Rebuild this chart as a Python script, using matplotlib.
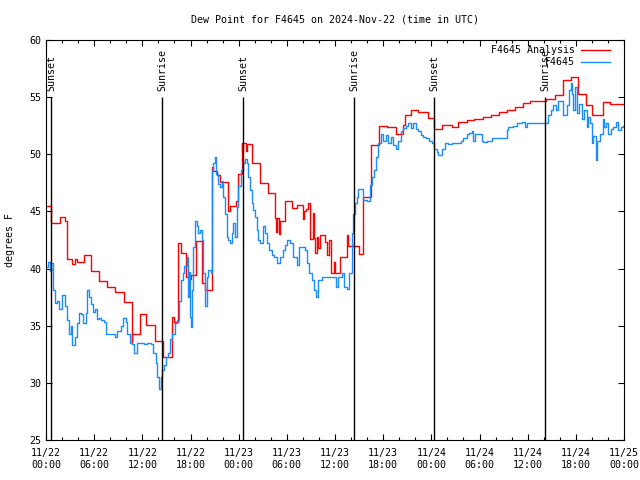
import matplotlib
matplotlib.use("Agg")
import matplotlib.pyplot as plt
import matplotlib.dates as mdates
import numpy as np
from datetime import datetime, timedelta

plt.rcParams['font.family'] = ['DejaVu Sans Mono']
FS = 7.2

start = datetime(2024, 11, 22, 0, 0)

# analysis (red), step series: hours since start, value
red_h = [0.0, 0.62, 1.7, 2.33, 2.65, 3.24, 3.6, 3.9, 4.73, 5.64, 6.6, 7.63, 8.59,
         9.71, 10.67, 10.75, 11.67, 12.49, 13.57, 14.53, 15.65, 15.94, 16.48, 16.8,
         17.43, 17.85, 18.06, 18.68, 19.39, 19.8, 20.64, 20.75, 21.26, 21.67, 22.63,
         22.91, 23.66, 23.95, 24.37, 24.45, 24.55, 24.9, 25.0, 25.69, 26.65, 27.61,
         28.52, 28.7, 28.8, 29.0, 29.1, 29.76, 30.6, 31.22, 32.0, 32.1, 32.4, 32.6,
         32.88, 33.3, 33.4, 33.5, 33.7, 33.9, 34.1, 34.74, 35.0, 35.2, 35.45, 35.9,
         36.0, 36.61, 37.5, 37.65, 39.02, 39.51, 40.44, 41.5, 42.5, 43.59, 44.5,
         44.7, 45.42, 46.36, 47.61, 48.32, 49.28, 50.52, 51.34, 52.39, 53.3, 54.46,
         55.38, 56.45, 57.45, 58.41, 59.36, 60.27, 62.27, 63.39, 64.42, 65.38,
         66.21, 67.21, 67.96, 69.4, 70.24, 72.0]
red_v = [45.5, 44.0, 44.5, 44.2, 40.8, 40.4, 40.8, 40.6, 41.2, 39.8, 38.9, 38.4, 37.95,
         37.1, 33.6, 34.3, 36.0, 35.1, 33.7, 32.3, 35.8, 35.3, 42.2, 41.4,
         39.3, 39.1, 39.4, 42.4, 38.7, 38.1, 48.9, 48.5, 48.2, 47.6, 45.0,
         45.5, 45.9, 48.3, 51.0, 50.3, 51.0, 50.3, 50.9, 49.2, 47.5, 46.6,
         44.4, 43.2, 44.4, 43.0, 44.2, 45.9, 45.3, 45.6, 44.3, 45.0, 45.2, 45.7,
         42.6, 44.9, 42.7, 41.4, 42.8, 41.8, 42.9, 42.3, 41.2, 42.5, 39.6, 40.6,
         39.6, 41.0, 42.9, 42.0, 41.3, 46.3, 50.8, 52.5, 52.4, 51.8, 52.6,
         53.4, 53.9, 53.7, 53.2, 52.2, 52.6, 52.4, 52.8, 53.0, 53.1, 53.3,
         53.4, 53.7, 53.9, 54.1, 54.5, 54.7, 54.8, 55.2, 56.5, 56.8,
         55.3, 54.3, 53.4, 54.6, 54.4, 54.4]

# observations (blue)
blue_h = [0.09, 0.25, 0.44, 0.62, 0.81, 0.91, 1.12, 1.41, 1.62, 2.03, 2.33, 2.65, 2.86,
          3.08, 3.28, 3.57, 3.82, 4.11, 4.40, 4.64, 4.94, 5.14, 5.35, 5.64, 5.85, 6.06,
          6.31, 6.60, 6.89, 7.22, 7.43, 7.85, 8.26, 8.56, 8.88, 9.30, 9.63, 9.93, 10.12,
          10.46, 10.75, 10.96, 11.37, 11.79, 12.20, 12.62, 13.04, 13.36, 13.66, 13.86,
          14.07, 14.28, 14.48, 14.69, 14.91, 15.19, 15.44, 15.73, 16.03, 16.28, 16.56,
          16.77, 17.10, 17.19, 17.52, 17.72, 17.81, 17.93, 18.02, 18.14, 18.34, 18.56,
          18.77, 18.97, 19.18, 19.39, 19.59, 19.80, 20.01, 20.21, 20.51, 20.63, 20.83,
          21.05, 21.17, 21.46, 21.67, 21.88, 22.08, 22.29, 22.50, 22.70, 22.91, 23.13,
          23.33, 23.54, 23.75, 23.95, 24.25, 24.50, 24.78, 24.99, 25.19, 25.40, 25.62,
          25.82, 26.03, 26.24, 26.44, 26.65, 26.99, 27.27, 27.48, 27.81, 28.11, 28.39,
          28.80, 29.14, 29.48, 29.76, 30.05, 30.39, 30.80, 31.22, 31.54, 32.25, 32.47,
          32.79, 33.09, 33.37, 33.62, 33.91, 34.33, 34.96, 35.78, 36.11, 36.40, 36.82,
          37.11, 37.45, 37.77, 38.07, 38.27, 38.48, 38.69, 38.89, 39.19, 39.51, 39.94,
          40.35, 40.56, 40.85, 41.10, 41.38, 41.68, 42.00, 42.34, 42.63, 42.93, 43.25,
          43.59, 43.87, 44.17, 44.50, 44.83, 45.12, 45.42, 45.74, 46.08, 46.36, 46.66,
          46.99, 47.32, 47.73, 48.03, 48.32, 48.66, 48.85, 49.28, 49.69, 50.10, 50.52,
          50.93, 51.34, 51.64, 51.97, 52.39, 52.72, 53.01, 53.21, 53.42, 53.84, 54.26,
          54.46, 54.88, 55.50, 56.75, 57.16, 57.45, 57.57, 58.19, 58.62, 59.24, 59.65,
          59.94, 62.14, 62.55, 62.85, 63.18, 63.51, 63.80, 64.10, 64.42, 64.84, 65.17,
          65.34, 65.47, 65.67, 65.88, 66.09, 66.41, 66.71, 67.00, 67.33, 67.53, 67.75,
          67.96, 68.16, 68.46, 68.66, 68.99, 69.33, 69.49, 69.74, 70.03, 70.32, 70.65,
          70.98, 71.27, 71.57, 71.92]
blue_v = [40.1, 40.6, 39.8, 40.5, 39.9, 38.1, 37.0, 37.2, 36.5, 37.7, 36.7, 35.5, 34.3,
          35.0, 33.3, 34.0, 35.2, 36.1, 36.0, 35.2, 36.1, 38.1, 37.5, 36.9, 36.2, 36.5,
          35.6, 35.7, 35.5, 35.3, 34.3, 34.3, 34.3, 34.0, 34.5, 35.0, 35.7, 35.3, 34.3,
          33.5, 33.4, 32.6, 33.5, 33.5, 33.4, 33.5, 33.4, 32.6, 31.7, 30.5,
          29.5, 30.5, 31.1, 31.6, 32.3, 32.6, 33.8, 34.3, 35.2, 35.5, 37.2,
          39.0, 39.6, 40.2, 41.0, 37.5, 39.7, 35.8, 34.9, 38.1, 41.9, 44.2,
          43.7, 43.1, 43.4, 42.5, 39.6, 36.7, 39.3, 39.9, 39.6, 48.6, 49.2,
          49.8, 48.3, 47.4, 47.1, 47.7, 46.3, 44.8, 42.8, 42.5, 42.2, 43.1,
          44.0, 42.8, 45.4, 47.2, 48.6, 49.2, 49.6, 49.2, 48.0, 46.9, 45.7,
          45.1, 44.5, 43.4, 42.5, 42.2, 43.7, 43.1, 42.2, 41.6, 41.2, 41.0,
          40.45, 41.0, 41.6, 42.1, 42.5, 42.2, 41.0, 40.3, 41.9, 41.6, 40.45,
          39.6, 39.0, 38.1, 37.5, 39.0, 39.3, 39.3, 39.3, 38.4, 39.3, 39.6,
          38.4, 38.2, 39.6, 43.1, 44.8, 45.7, 46.3, 47.0, 47.0, 46.0, 45.9,
          47.3, 48.0, 48.6, 49.8, 51.0, 51.8, 51.2, 51.7, 51.0, 51.5, 50.8,
          50.5, 51.2, 52.0, 52.3, 52.5, 52.7, 52.3, 52.7, 52.2, 52.0, 51.7,
          51.5, 51.4, 51.2, 51.0, 50.5, 50.2, 49.9, 50.5, 51.0, 50.9, 51.0,
          51.0, 51.0, 51.2, 51.4, 51.8, 51.9, 52.0, 51.2, 51.8, 51.8, 51.2,
          51.1, 51.2, 51.4, 51.4, 51.4, 52.1, 52.4, 52.5, 52.7, 52.8, 52.4,
          52.7, 52.7, 53.4, 53.9, 54.3, 53.9, 54.7, 54.7, 53.4, 54.3, 55.6,
          56.2, 55.3, 53.9, 55.9, 53.6, 54.4, 53.1, 53.9, 52.4, 53.3, 52.7,
          51.0, 51.6, 49.5, 51.2, 51.8, 53.1, 52.4, 52.7, 51.8, 52.2, 52.4,
          52.8, 52.1, 52.4, 52.5]

# sun events (hours since start)
sun_h = [0.66, 14.48, 24.57, 38.4, 48.36, 62.18]
sun_lab = ['Sunset', 'Sunrise', 'Sunset', 'Sunrise', 'Sunset', 'Sunrise']

def to_dt(hours):
    return [start + timedelta(hours=h) for h in hours]

fig = plt.figure(figsize=(6.4, 4.8), dpi=100)
ax = fig.add_axes([46/640, 40/480, 578/640, 400/480])

ax.plot(to_dt(red_h), red_v, color='#ff0000', lw=1.0, drawstyle='steps-post')
ax.plot(to_dt(blue_h), blue_v, color='#1a8cff', lw=1.0, drawstyle='steps-post')

ax.vlines(to_dt(sun_h), 25, 55, color='black', lw=1.0)
for t, lab in zip(to_dt(sun_h), sun_lab):
    ax.text(t, 55.5, lab, rotation=90, ha='center', va='bottom', fontsize=FS)

ax.set_xlim(start, start + timedelta(hours=72))
ax.set_ylim(25, 60)
ax.set_yticks(np.arange(25, 61, 5))
ax.xaxis.set_major_locator(mdates.HourLocator(byhour=[0, 6, 12, 18]))
ax.xaxis.set_minor_locator(mdates.HourLocator(interval=2))
ax.xaxis.set_major_formatter(mdates.DateFormatter('%m/%d\n%H:%M'))
ax.tick_params(which='both', direction='in', top=True, right=True, labelsize=FS)
ax.tick_params(which='major', length=4.5, width=0.8)
ax.tick_params(which='minor', length=2.5, width=0.8)
ax.tick_params(axis='x', pad=6)
for s in ax.spines.values():
    s.set_linewidth(0.8)

# legend, gnuplot style (text right aligned, sample on the right)
ax.text(0.915, 0.975, 'F4645 Analysis', transform=ax.transAxes, ha='right', va='center', fontsize=FS)
ax.plot([0.926, 0.976], [0.975, 0.975], transform=ax.transAxes, color='#ff0000', lw=1.0)
ax.text(0.915, 0.945, 'F4645', transform=ax.transAxes, ha='right', va='center', fontsize=FS)
ax.plot([0.926, 0.976], [0.945, 0.945], transform=ax.transAxes, color='#1a8cff', lw=1.0)

ax.set_ylabel('degrees F', fontsize=FS, labelpad=10)
fig.text(335/640, 1 - 19/480, 'Dew Point for F4645 on 2024-Nov-22 (time in UTC)',
         ha='center', va='center', fontsize=FS)

fig.savefig('out.png', dpi=100)
